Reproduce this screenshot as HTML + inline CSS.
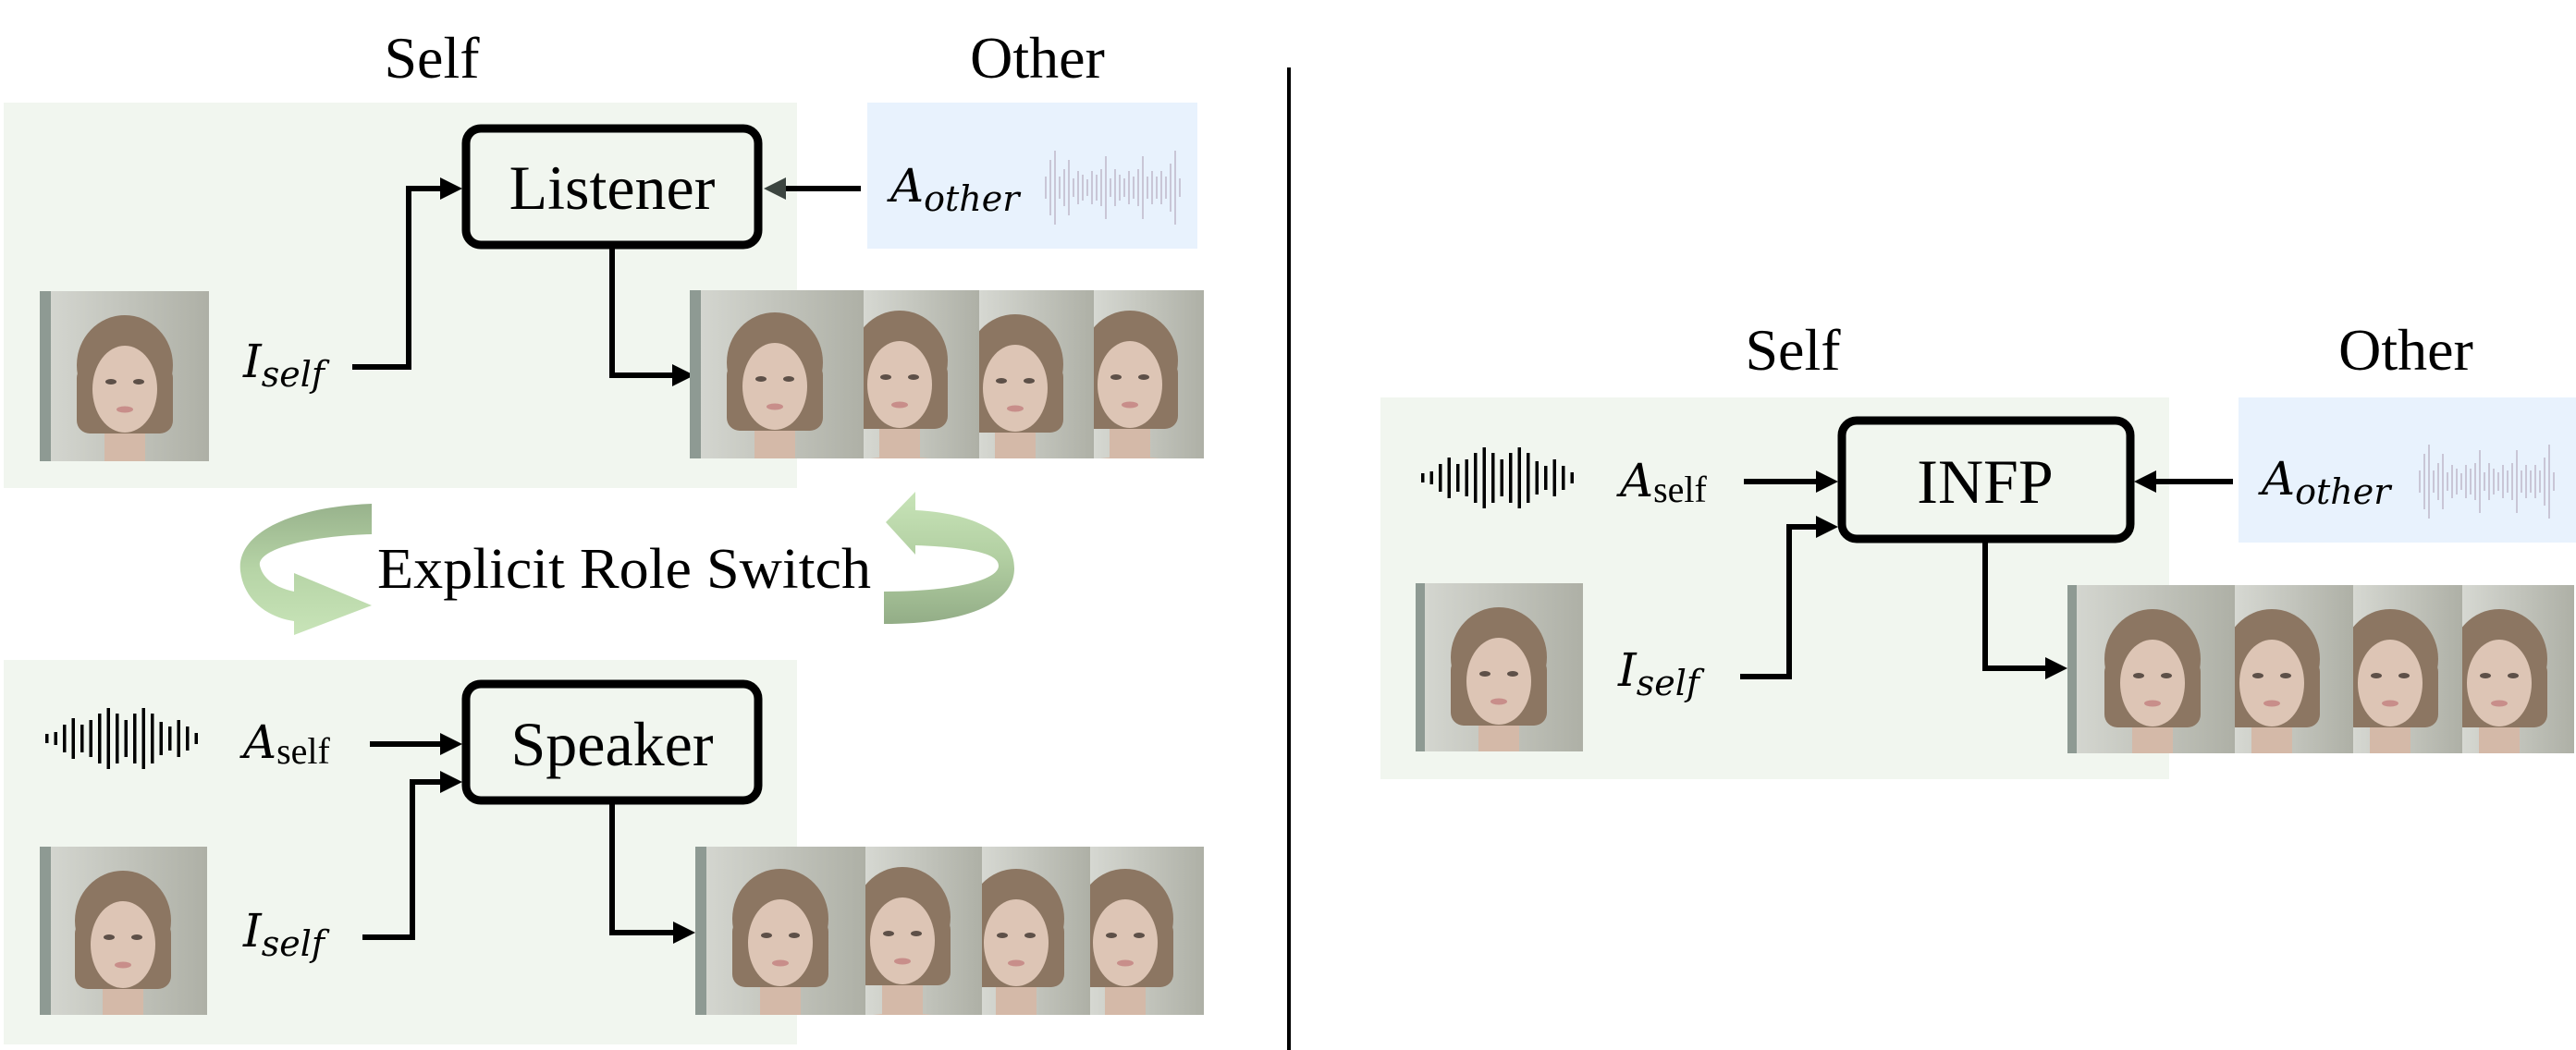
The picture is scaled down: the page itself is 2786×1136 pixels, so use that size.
<!DOCTYPE html>
<html><head><meta charset="utf-8"><style>
html,body{margin:0;padding:0;background:#fff;}
svg{display:block;}
.t{font-family:"Liberation Serif",serif;fill:#000;}
.m{font-family:"DejaVu Serif","Liberation Serif",serif;font-style:italic;fill:#000;}
</style></head><body>
<svg width="2786" height="1136" viewBox="0 0 2786 1136" xmlns="http://www.w3.org/2000/svg">
<defs>
<linearGradient id="bg" x1="0" y1="0" x2="1" y2="0"><stop offset="0" stop-color="#d6d8d2"/><stop offset="1" stop-color="#aeb0a6"/></linearGradient>
<linearGradient id="gl" x1="0" y1="0" x2="0" y2="1"><stop offset="0" stop-color="#98b28c"/><stop offset="0.5" stop-color="#b6d4a6"/><stop offset="1" stop-color="#c8e4b8"/></linearGradient>
<linearGradient id="gr" x1="0" y1="0" x2="0" y2="1"><stop offset="0" stop-color="#c8e4b8"/><stop offset="0.5" stop-color="#b2cfa2"/><stop offset="1" stop-color="#93ad87"/></linearGradient>
<g id="face">
<ellipse cx="0" cy="205" rx="95" ry="35" fill="#d6bcab"/>
<rect x="-22" y="120" width="44" height="80" fill="#d4b9a8"/>
<ellipse cx="0" cy="66" rx="52" ry="54" fill="#8c7662"/>
<rect x="-52" y="66" width="104" height="74" rx="14" fill="#8c7662"/>
<ellipse cx="0" cy="92" rx="35" ry="47" fill="#ddc5b5"/>
<ellipse cx="-15" cy="84" rx="6" ry="3" fill="#5d5048"/>
<ellipse cx="15" cy="84" rx="6" ry="3" fill="#5d5048"/>
<ellipse cx="0" cy="114" rx="9" ry="3.5" fill="#c88e8a"/>
</g>
<g id="wave">
<rect x="0" y="-5" width="3.5" height="10"/><rect x="9.5" y="-7" width="3.5" height="14"/><rect x="19" y="-15" width="3.5" height="30"/><rect x="28.5" y="-22" width="3.5" height="44"/><rect x="38" y="-15" width="3.5" height="30"/><rect x="47.5" y="-20" width="3.5" height="40"/><rect x="57" y="-27" width="3.5" height="54"/><rect x="66.5" y="-33" width="3.5" height="66"/><rect x="76" y="-27" width="3.5" height="54"/><rect x="85.5" y="-20" width="3.5" height="40"/><rect x="95" y="-27" width="3.5" height="54"/><rect x="104.5" y="-33" width="3.5" height="66"/><rect x="114" y="-27" width="3.5" height="54"/><rect x="123.5" y="-18" width="3.5" height="36"/><rect x="133" y="-13" width="3.5" height="26"/><rect x="142.5" y="-20" width="3.5" height="40"/><rect x="152" y="-13" width="3.5" height="26"/><rect x="161.5" y="-6" width="3.5" height="12"/>
</g>
<g id="gwave" fill="#c9c6d6">
<rect x="0" y="-12" width="2" height="24"/><rect x="5" y="-30" width="2" height="60"/><rect x="10" y="-40" width="2" height="80"/><rect x="15" y="-12" width="2" height="24"/><rect x="20" y="-20" width="2" height="40"/><rect x="25" y="-30" width="2" height="60"/><rect x="30" y="-10" width="2" height="20"/><rect x="35" y="-18" width="2" height="36"/><rect x="40" y="-14" width="2" height="28"/><rect x="45" y="-9" width="2" height="18"/><rect x="50" y="-18" width="2" height="36"/><rect x="55" y="-14" width="2" height="28"/><rect x="60" y="-20" width="2" height="40"/><rect x="65" y="-34" width="2" height="68"/><rect x="70" y="-10" width="2" height="20"/><rect x="75" y="-20" width="2" height="40"/><rect x="80" y="-14" width="2" height="28"/><rect x="85" y="-10" width="2" height="20"/><rect x="90" y="-18" width="2" height="36"/><rect x="95" y="-12" width="2" height="24"/><rect x="100" y="-20" width="2" height="40"/><rect x="105" y="-34" width="2" height="68"/><rect x="110" y="-12" width="2" height="24"/><rect x="115" y="-18" width="2" height="36"/><rect x="120" y="-12" width="2" height="24"/><rect x="125" y="-18" width="2" height="36"/><rect x="130" y="-12" width="2" height="24"/><rect x="135" y="-26" width="2" height="52"/><rect x="140" y="-40" width="2" height="80"/><rect x="145" y="-10" width="2" height="20"/>
</g>
</defs>

<!-- LEFT PANEL -->
<text class="t" x="467" y="84" font-size="64" text-anchor="middle">Self</text>
<text class="t" x="1122" y="84" font-size="64" text-anchor="middle">Other</text>
<rect x="4" y="111" width="858" height="417" fill="#f1f6ef"/>
<rect x="938" y="111" width="357" height="158" fill="#e8f2fd"/>
<rect x="4" y="714" width="858" height="416" fill="#f1f6ef"/>

<rect x="504" y="139" width="316" height="126" rx="16" fill="none" stroke="#000" stroke-width="9"/>
<text class="t" x="662" y="226" font-size="68" text-anchor="middle">Listener</text>
<text class="m" x="963" y="218" font-size="50">A<tspan font-size="38" dy="10">other</tspan></text>
<use href="#gwave" x="1130" y="203"/>
<line x1="931" y1="204" x2="845" y2="204" stroke="#000" stroke-width="6"/>
<polygon points="826,204 850,192 850,216" fill="#3c4540"/>

<svg x="43" y="315" width="183" height="184" viewBox="0 0 183 184"><rect width="183" height="184" fill="url(#bg)"/><rect width="12" height="184" fill="#8e9a93"/><use href="#face" x="92" y="14"/></svg>
<text class="m" x="263" y="408" font-size="50">I<tspan font-size="38" dy="10">self</tspan></text>
<polyline points="381,397 442,397 442,204 480,204" fill="none" stroke="#000" stroke-width="6"/>
<polygon points="500,204 476,192 476,216" fill="#000"/>
<polyline points="662,269 662,406 730,406" fill="none" stroke="#000" stroke-width="6"/>
<polygon points="751,406 727,394 727,418" fill="#000"/>

<svg x="746" y="314" width="188" height="182"><rect width="188" height="182" fill="url(#bg)"/><rect width="12" height="182" fill="#8e9a93"/><use href="#face" x="92" y="12"/></svg>
<svg x="934" y="314" width="125" height="182"><rect width="125" height="182" fill="url(#bg)"/><use href="#face" x="39" y="10"/></svg>
<svg x="1059" y="314" width="124" height="182"><rect width="124" height="182" fill="url(#bg)"/><use href="#face" x="39" y="14"/></svg>
<svg x="1183" y="314" width="119" height="182"><rect width="119" height="182" fill="url(#bg)"/><use href="#face" x="39" y="10"/></svg>

<!-- Role switch -->
<path d="M402,545 C320,548 255,575 260,618 C264,650 290,668 318,672 L318,687 L402,655 L318,620 L318,640 C300,636 285,628 281,612 C278,595 330,580 402,578 Z" fill="url(#gl)"/>
<path d="M956,640 C1030,640 1080,628 1080,612 C1080,597 1040,592 990,590 L990,600 L958,565 L990,532 L990,552 C1050,555 1097,575 1097,615 C1097,655 1040,675 956,675 Z" fill="url(#gr)"/>
<text class="t" x="675" y="636" font-size="62" text-anchor="middle" textLength="534" lengthAdjust="spacingAndGlyphs">Explicit Role Switch</text>

<!-- Speaker -->
<rect x="504" y="740" width="316" height="126" rx="16" fill="none" stroke="#000" stroke-width="9"/>
<text class="t" x="662" y="828" font-size="68" text-anchor="middle">Speaker</text>
<use href="#wave" x="49" y="799"/>
<text class="m" x="263" y="820" font-size="50">A<tspan font-size="40" dy="6" font-style="normal" font-family="Liberation Serif">self</tspan></text>
<line x1="400" y1="805" x2="480" y2="805" stroke="#000" stroke-width="6"/>
<polygon points="500,805 476,793 476,817" fill="#000"/>
<svg x="43" y="916" width="181" height="182"><rect width="181" height="182" fill="url(#bg)"/><rect width="12" height="182" fill="#8e9a93"/><use href="#face" x="90" y="14"/></svg>
<text class="m" x="263" y="1024" font-size="50">I<tspan font-size="38" dy="10">self</tspan></text>
<polyline points="392,1014 446,1014 446,846 480,846" fill="none" stroke="#000" stroke-width="6"/>
<polygon points="500,846 476,834 476,858" fill="#000"/>
<polyline points="662,870 662,1009 731,1009" fill="none" stroke="#000" stroke-width="6"/>
<polygon points="752,1009 728,997 728,1021" fill="#000"/>
<svg x="752" y="916" width="184" height="182"><rect width="184" height="182" fill="url(#bg)"/><rect width="12" height="182" fill="#8e9a93"/><use href="#face" x="92" y="12"/></svg>
<svg x="936" y="916" width="126" height="182"><rect width="126" height="182" fill="url(#bg)"/><use href="#face" x="40" y="10"/></svg>
<svg x="1062" y="916" width="117" height="182"><rect width="117" height="182" fill="url(#bg)"/><use href="#face" x="37" y="12"/></svg>
<svg x="1179" y="916" width="123" height="182"><rect width="123" height="182" fill="url(#bg)"/><use href="#face" x="38" y="12"/></svg>

<!-- divider -->
<line x1="1394" y1="73" x2="1394" y2="1136" stroke="#000" stroke-width="4"/>

<!-- RIGHT PANEL -->
<text class="t" x="1939" y="400" font-size="64" text-anchor="middle">Self</text>
<text class="t" x="2602" y="400" font-size="64" text-anchor="middle">Other</text>
<rect x="1493" y="430" width="853" height="413" fill="#f1f6ef"/>
<rect x="2421" y="430" width="365" height="157" fill="#e8f2fd"/>
<rect x="1992" y="455" width="312" height="128" rx="16" fill="none" stroke="#000" stroke-width="9"/>
<text class="t" x="2147" y="544" font-size="68" text-anchor="middle">INFP</text>
<use href="#wave" x="1537" y="517"/>
<text class="m" x="1752" y="537" font-size="50">A<tspan font-size="40" dy="6" font-style="normal" font-family="Liberation Serif">self</tspan></text>
<line x1="1886" y1="521" x2="1968" y2="521" stroke="#000" stroke-width="6"/>
<polygon points="1988,521 1964,509 1964,533" fill="#000"/>
<text class="m" x="2446" y="535" font-size="50">A<tspan font-size="38" dy="10">other</tspan></text>
<use href="#gwave" x="2616" y="521"/>
<line x1="2415" y1="521" x2="2328" y2="521" stroke="#000" stroke-width="6"/>
<polygon points="2308,521 2332,509 2332,533" fill="#000"/>
<svg x="1531" y="631" width="181" height="182"><rect width="181" height="182" fill="url(#bg)"/><rect width="10" height="182" fill="#8e9a93"/><use href="#face" x="90" y="14"/></svg>
<text class="m" x="1750" y="742" font-size="50">I<tspan font-size="38" dy="10">self</tspan></text>
<polyline points="1882,732 1935,732 1935,570 1968,570" fill="none" stroke="#000" stroke-width="6"/>
<polygon points="1988,570 1964,558 1964,582" fill="#000"/>
<polyline points="2147,587 2147,723 2216,723" fill="none" stroke="#000" stroke-width="6"/>
<polygon points="2236,723 2212,711 2212,735" fill="#000"/>
<svg x="2236" y="633" width="181" height="182"><rect width="181" height="182" fill="url(#bg)"/><rect width="10" height="182" fill="#8e9a93"/><use href="#face" x="92" y="14"/></svg>
<svg x="2417" y="633" width="128" height="182"><rect width="128" height="182" fill="url(#bg)"/><use href="#face" x="40" y="14"/></svg>
<svg x="2545" y="633" width="118" height="182"><rect width="118" height="182" fill="url(#bg)"/><use href="#face" x="40" y="14"/></svg>
<svg x="2663" y="633" width="121" height="182"><rect width="121" height="182" fill="url(#bg)"/><use href="#face" x="40" y="14"/></svg>
</svg>
</body></html>
